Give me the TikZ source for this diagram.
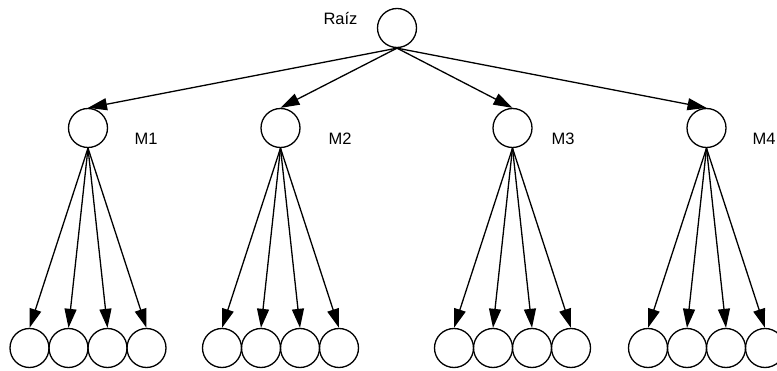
\documentclass[tikz,border=0pt]{standalone}
\usepackage{fontspec}
\setmainfont{Liberation Sans}
\usetikzlibrary{arrows.meta}
\tikzset{
  vert/.style={circle, draw, line width=1.3pt, minimum size=39pt, inner sep=0pt},
  link/.style={line width=1.3pt, -{Triangle[length=19pt,width=12pt]}},
  tag/.style={font=\fontsize{16.5}{19}\selectfont, inner sep=0pt}
}
\begin{document}
\begin{tikzpicture}[x=1pt,y=-1pt]
  \useasboundingbox (0,0) rectangle (777,371);
  % root
  \node[vert] (root) at (397,28) {};
  \node[tag] (rootlbl) at (340.5,19) {Raíz};
  % middle level with labels and four leaves each
  \foreach \i/\mx/\lx in {1/88/146, 2/280.5/340, 3/512.5/563, 4/706.5/764} {
    \node[vert] (m\i) at (\mx,128) {};
    \node[tag] (l\i) at (\lx,139) {M\i};
    \draw[link] (root.south) -- (m\i.north);
    \foreach \j/\dx in {1/-58.5, 2/-19.5, 3/19.5, 4/58.5} {
      \node[vert] (f\i\j) at (\mx+\dx,348) {};
      \draw[link] (m\i.south) -- (f\i\j.north);
    }
  }
\end{tikzpicture}
\end{document}
